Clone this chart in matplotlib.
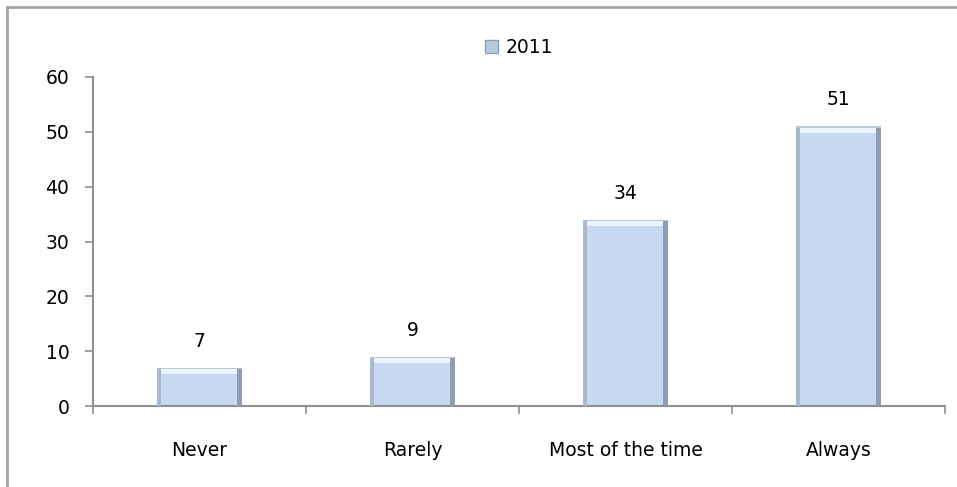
import matplotlib.pyplot as plt
from matplotlib.lines import Line2D
from matplotlib.patches import Rectangle

# data
kategori = ["Never", "Rarely", "Most of the time", "Always"]
nilai_2011 = [7, 9, 34, 51]
seri = "2011"

plt.rcParams["font.family"] = ["DejaVu Sans"]
fs = 13.5

fig = plt.figure(figsize=(9.57, 4.87), dpi=100)
ax = fig.add_axes([0.0972, 0.1663, 0.8903, 0.6756])

x = list(range(len(kategori)))
lebar = 0.4
warna = "#C6D9F1"

# bar utama
bars = ax.bar(x, nilai_2011, width=lebar, color=warna, edgecolor="none", zorder=2, label=seri)

# efek bevel sederhana: sorotan atas, bayangan sisi
for b in bars:
    x0, w, h = b.get_x(), b.get_width(), b.get_height()
    ax.add_patch(Rectangle((x0, h - 1.2), w, 1.2, color="#EEF4FC", zorder=3, lw=0))
    ax.add_patch(Rectangle((x0, 0), w * 0.05, h, color="#A9B8CC", zorder=3, lw=0))
    ax.add_patch(Rectangle((x0 + w * 0.94, 0), w * 0.06, h, color="#8E9DB2", zorder=3, lw=0))
    ax.add_patch(Rectangle((x0, h - 0.3), w, 0.3, color="#B7C6DA", zorder=4, lw=0))

# label nilai di atas bar
for xi, v in zip(x, nilai_2011):
    ax.annotate(str(v), (xi, v), xytext=(0, 19), textcoords="offset points",
                ha="center", va="center", fontsize=fs, color="#000000")

ax.set_xlim(-0.5, len(kategori) - 0.5)
ax.set_ylim(0, 60)
ax.set_yticks(range(0, 61, 10))
ax.set_xticks(x)
ax.set_xticklabels(kategori)
ax.set_xticks([i - 0.5 for i in range(len(kategori) + 1)], minor=True)
ax.tick_params(axis="x", which="major", length=0, pad=25, labelsize=fs)
ax.tick_params(axis="x", which="minor", length=6, width=1.2, color="#909090", direction="out")
ax.tick_params(axis="y", length=6, width=1.2, color="#909090", pad=11, labelsize=fs)

for s in ["top", "right"]:
    ax.spines[s].set_visible(False)
for s in ["left", "bottom"]:
    ax.spines[s].set_color("#909090")
    ax.spines[s].set_linewidth(1.5)

# legenda
leg = ax.legend(loc="center", bbox_to_anchor=(0.5, 1.09), frameon=False, fontsize=fs,
                handlelength=0.7, handleheight=0.7, handletextpad=0.4)
for p in leg.get_patches():
    p.set_facecolor("#B9C9DE")
    p.set_edgecolor("#8E9DB2")

# bingkai luar
fig.add_artist(Line2D([7 / 957, 7 / 957], [0, 1 - 7 / 487], color="#A6A6A6", lw=2))
fig.add_artist(Line2D([7 / 957, 1], [1 - 7 / 487, 1 - 7 / 487], color="#A6A6A6", lw=2))

fig.savefig("out.png", dpi=100)
